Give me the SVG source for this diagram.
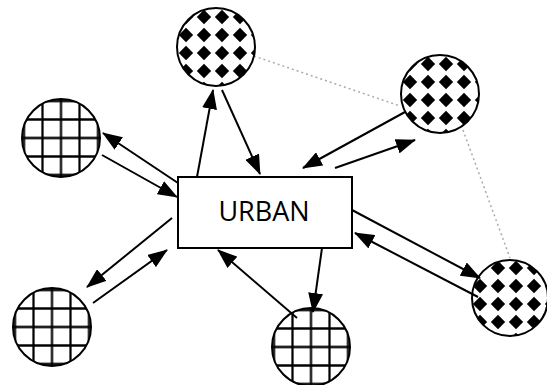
<svg xmlns="http://www.w3.org/2000/svg" width="547" height="385" viewBox="0 0 547 385">
  <style>
    .node { stroke: #000; stroke-width: 2; }
    .grid { fill: url(#gridFill); }
    .dots { fill: url(#dotFill); }
    .box { fill: #fff; stroke: #000; stroke-width: 2; }
    .label { font-family: "Open Sans", "Liberation Sans", sans-serif; font-size: 27px; fill: #000; }
    .arrow { stroke: #000; stroke-width: 2; fill: none; marker-end: url(#head); }
    .link { stroke: #aaa; stroke-width: 1.5; stroke-dasharray: 2 3; fill: none; }
  </style>
  <defs>
    <!-- square grid, lines through the centre of each circle -->
    <pattern id="gridFill" patternUnits="userSpaceOnUse" x="-9.25" y="-9.25" width="18.5" height="18.5">
      <rect width="18.5" height="18.5" fill="#fff"/>
      <path d="M9.25 0V18.5M0 9.25H18.5" stroke="#000" stroke-width="2.2"/>
    </pattern>
    <!-- black diamonds on a square lattice -->
    <pattern id="dotFill" patternUnits="userSpaceOnUse" x="-21" y="-21" width="18" height="18">
      <rect width="18" height="18" fill="#fff"/>
      <path d="M9 1.8L16.2 9L9 16.2L1.8 9Z" fill="#000"/>
    </pattern>
    <marker id="head" markerUnits="userSpaceOnUse" markerWidth="20" markerHeight="15" refX="19" refY="7.5" orient="auto">
      <path d="M0 0L20 7.5L0 15Z" fill="#000"/>
    </marker>
  </defs>

  <!-- faint dotted links between neighbouring cells -->
  <g id="links">
    <path class="link" d="M254 56L400 106"/>
    <path class="link" d="M463 130L510 258"/>
  </g>

  <g id="n-top" transform="translate(216 47)">
    <circle class="node dots" r="39"/>
  </g>
  <g id="n-right-top" transform="translate(440 94)">
    <circle class="node dots" r="39"/>
  </g>
  <g id="n-left-top" transform="translate(61 138)">
    <circle class="node grid" r="39"/>
  </g>
  <g id="n-left-bottom" transform="translate(52 327)">
    <circle class="node grid" r="39"/>
  </g>
  <g id="n-bottom" transform="translate(311 347)">
    <circle class="node grid" r="39"/>
  </g>
  <g id="n-right-bottom" transform="translate(510 298)">
    <circle class="node dots" r="38"/>
  </g>

  <g id="urban">
    <rect class="box" x="178" y="177" width="174" height="71"/>
    <text class="label" x="264" y="221" text-anchor="middle">URBAN</text>
  </g>

  <g id="connectors">
    <path class="arrow" d="M197 177L213 90"/>
    <path class="arrow" d="M222 90L260 174"/>
    <path class="arrow" d="M335 168L415 140"/>
    <path class="arrow" d="M405 112L303 168"/>
    <path class="arrow" d="M178 183L103 133"/>
    <path class="arrow" d="M102 155L177 197"/>
    <path class="arrow" d="M172 218L87 287"/>
    <path class="arrow" d="M93 303L167 250"/>
    <path class="arrow" d="M297 318L218 250"/>
    <path class="arrow" d="M322 248L313 312"/>
    <path class="arrow" d="M352 210L480 278"/>
    <path class="arrow" d="M478 297L355 233"/>
  </g>
</svg>
